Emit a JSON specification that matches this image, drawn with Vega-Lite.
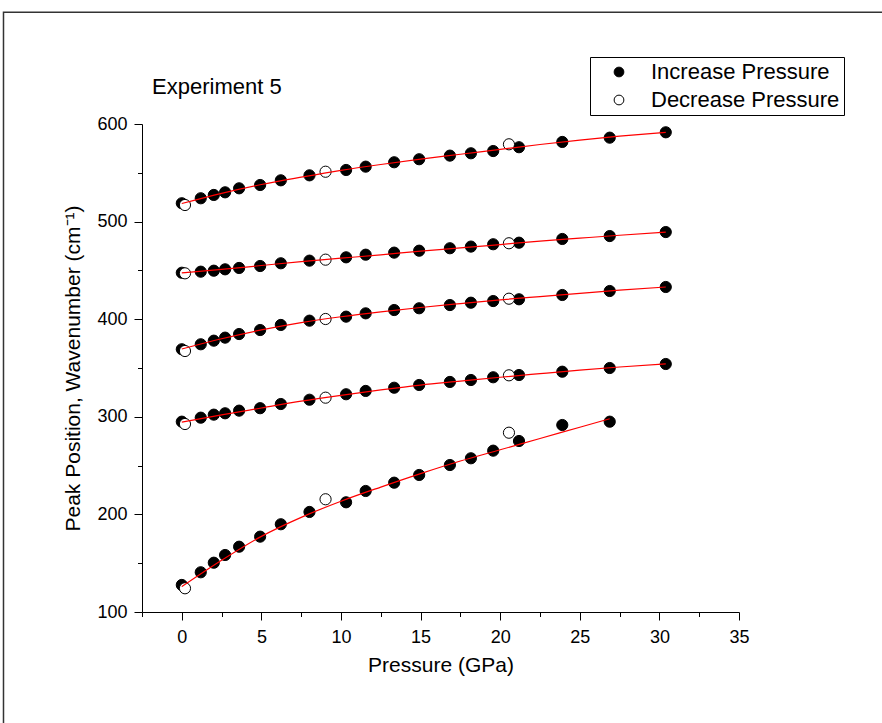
{
  "$schema": "https://vega.github.io/schema/vega-lite/v6.json",
  "width": 597,
  "height": 488,
  "autosize": {"type": "none"},
  "padding": {"left": 142, "top": 124, "right": 143, "bottom": 111},
  "background": "white",
  "config": {
    "view": {"stroke": null},
    "font": "Liberation Sans",
    "axis": {
      "grid": false,
      "domainColor": "black",
      "domainWidth": 1,
      "tickColor": "black",
      "tickWidth": 1,
      "labelColor": "black",
      "labelFont": "Liberation Sans",
      "titleFont": "Liberation Sans",
      "titleColor": "black",
      "titleFontWeight": "normal"
    }
  },
  "datasets": {
    "peaks": [
      {"p": 0, "v": 518.8, "peak": "A", "dir": "Increase Pressure"},
      {"p": 1.19, "v": 523.9, "peak": "A", "dir": "Increase Pressure"},
      {"p": 2.01, "v": 527.3, "peak": "A", "dir": "Increase Pressure"},
      {"p": 2.72, "v": 530.0, "peak": "A", "dir": "Increase Pressure"},
      {"p": 3.6, "v": 534.1, "peak": "A", "dir": "Increase Pressure"},
      {"p": 4.92, "v": 537.5, "peak": "A", "dir": "Increase Pressure"},
      {"p": 6.22, "v": 542.3, "peak": "A", "dir": "Increase Pressure"},
      {"p": 8.02, "v": 547.4, "peak": "A", "dir": "Increase Pressure"},
      {"p": 10.32, "v": 552.9, "peak": "A", "dir": "Increase Pressure"},
      {"p": 11.55, "v": 556.3, "peak": "A", "dir": "Increase Pressure"},
      {"p": 13.34, "v": 560.8, "peak": "A", "dir": "Increase Pressure"},
      {"p": 14.91, "v": 563.9, "peak": "A", "dir": "Increase Pressure"},
      {"p": 16.84, "v": 567.6, "peak": "A", "dir": "Increase Pressure"},
      {"p": 18.16, "v": 570.0, "peak": "A", "dir": "Increase Pressure"},
      {"p": 19.56, "v": 572.3, "peak": "A", "dir": "Increase Pressure"},
      {"p": 21.18, "v": 576.2, "peak": "A", "dir": "Increase Pressure"},
      {"p": 23.9, "v": 581.6, "peak": "A", "dir": "Increase Pressure"},
      {"p": 26.88, "v": 586.0, "peak": "A", "dir": "Increase Pressure"},
      {"p": 30.4, "v": 591.5, "peak": "A", "dir": "Increase Pressure"},
      {"p": 0, "v": 447.6, "peak": "B", "dir": "Increase Pressure"},
      {"p": 1.19, "v": 448.7, "peak": "B", "dir": "Increase Pressure"},
      {"p": 2.01, "v": 449.7, "peak": "B", "dir": "Increase Pressure"},
      {"p": 2.72, "v": 451.1, "peak": "B", "dir": "Increase Pressure"},
      {"p": 3.6, "v": 452.5, "peak": "B", "dir": "Increase Pressure"},
      {"p": 4.92, "v": 454.5, "peak": "B", "dir": "Increase Pressure"},
      {"p": 6.22, "v": 457.3, "peak": "B", "dir": "Increase Pressure"},
      {"p": 8.02, "v": 460.0, "peak": "B", "dir": "Increase Pressure"},
      {"p": 10.32, "v": 463.4, "peak": "B", "dir": "Increase Pressure"},
      {"p": 11.55, "v": 466.1, "peak": "B", "dir": "Increase Pressure"},
      {"p": 13.34, "v": 468.2, "peak": "B", "dir": "Increase Pressure"},
      {"p": 14.91, "v": 470.2, "peak": "B", "dir": "Increase Pressure"},
      {"p": 16.84, "v": 472.7, "peak": "B", "dir": "Increase Pressure"},
      {"p": 18.16, "v": 474.4, "peak": "B", "dir": "Increase Pressure"},
      {"p": 19.56, "v": 476.8, "peak": "B", "dir": "Increase Pressure"},
      {"p": 21.18, "v": 478.4, "peak": "B", "dir": "Increase Pressure"},
      {"p": 23.9, "v": 482.2, "peak": "B", "dir": "Increase Pressure"},
      {"p": 26.88, "v": 485.2, "peak": "B", "dir": "Increase Pressure"},
      {"p": 30.4, "v": 489.3, "peak": "B", "dir": "Increase Pressure"},
      {"p": 0, "v": 369.2, "peak": "C", "dir": "Increase Pressure"},
      {"p": 1.19, "v": 374.3, "peak": "C", "dir": "Increase Pressure"},
      {"p": 2.01, "v": 378.0, "peak": "C", "dir": "Increase Pressure"},
      {"p": 2.72, "v": 381.1, "peak": "C", "dir": "Increase Pressure"},
      {"p": 3.6, "v": 384.8, "peak": "C", "dir": "Increase Pressure"},
      {"p": 4.92, "v": 388.9, "peak": "C", "dir": "Increase Pressure"},
      {"p": 6.22, "v": 394.1, "peak": "C", "dir": "Increase Pressure"},
      {"p": 8.02, "v": 398.5, "peak": "C", "dir": "Increase Pressure"},
      {"p": 10.32, "v": 402.6, "peak": "C", "dir": "Increase Pressure"},
      {"p": 11.55, "v": 406.0, "peak": "C", "dir": "Increase Pressure"},
      {"p": 13.34, "v": 409.4, "peak": "C", "dir": "Increase Pressure"},
      {"p": 14.91, "v": 411.2, "peak": "C", "dir": "Increase Pressure"},
      {"p": 16.84, "v": 414.5, "peak": "C", "dir": "Increase Pressure"},
      {"p": 18.16, "v": 416.9, "peak": "C", "dir": "Increase Pressure"},
      {"p": 19.56, "v": 418.6, "peak": "C", "dir": "Increase Pressure"},
      {"p": 21.18, "v": 420.4, "peak": "C", "dir": "Increase Pressure"},
      {"p": 23.9, "v": 424.8, "peak": "C", "dir": "Increase Pressure"},
      {"p": 26.88, "v": 428.9, "peak": "C", "dir": "Increase Pressure"},
      {"p": 30.4, "v": 433.0, "peak": "C", "dir": "Increase Pressure"},
      {"p": 0, "v": 295.0, "peak": "D", "dir": "Increase Pressure"},
      {"p": 1.19, "v": 299.1, "peak": "D", "dir": "Increase Pressure"},
      {"p": 2.01, "v": 302.2, "peak": "D", "dir": "Increase Pressure"},
      {"p": 2.72, "v": 303.6, "peak": "D", "dir": "Increase Pressure"},
      {"p": 3.6, "v": 306.3, "peak": "D", "dir": "Increase Pressure"},
      {"p": 4.92, "v": 308.8, "peak": "D", "dir": "Increase Pressure"},
      {"p": 6.22, "v": 313.1, "peak": "D", "dir": "Increase Pressure"},
      {"p": 8.02, "v": 317.5, "peak": "D", "dir": "Increase Pressure"},
      {"p": 10.32, "v": 323.1, "peak": "D", "dir": "Increase Pressure"},
      {"p": 11.55, "v": 326.5, "peak": "D", "dir": "Increase Pressure"},
      {"p": 13.34, "v": 329.8, "peak": "D", "dir": "Increase Pressure"},
      {"p": 14.91, "v": 332.6, "peak": "D", "dir": "Increase Pressure"},
      {"p": 16.84, "v": 335.7, "peak": "D", "dir": "Increase Pressure"},
      {"p": 18.16, "v": 337.7, "peak": "D", "dir": "Increase Pressure"},
      {"p": 19.56, "v": 340.5, "peak": "D", "dir": "Increase Pressure"},
      {"p": 21.18, "v": 342.8, "peak": "D", "dir": "Increase Pressure"},
      {"p": 23.9, "v": 346.2, "peak": "D", "dir": "Increase Pressure"},
      {"p": 26.88, "v": 350.0, "peak": "D", "dir": "Increase Pressure"},
      {"p": 30.4, "v": 354.1, "peak": "D", "dir": "Increase Pressure"},
      {"p": 0, "v": 127.7, "peak": "E", "dir": "Increase Pressure"},
      {"p": 1.19, "v": 140.7, "peak": "E", "dir": "Increase Pressure"},
      {"p": 2.01, "v": 150.5, "peak": "E", "dir": "Increase Pressure"},
      {"p": 2.72, "v": 158.4, "peak": "E", "dir": "Increase Pressure"},
      {"p": 3.6, "v": 166.9, "peak": "E", "dir": "Increase Pressure"},
      {"p": 4.92, "v": 177.2, "peak": "E", "dir": "Increase Pressure"},
      {"p": 6.22, "v": 189.9, "peak": "E", "dir": "Increase Pressure"},
      {"p": 8.02, "v": 202.5, "peak": "E", "dir": "Increase Pressure"},
      {"p": 10.32, "v": 212.4, "peak": "E", "dir": "Increase Pressure"},
      {"p": 11.55, "v": 224.0, "peak": "E", "dir": "Increase Pressure"},
      {"p": 13.34, "v": 232.5, "peak": "E", "dir": "Increase Pressure"},
      {"p": 14.91, "v": 240.4, "peak": "E", "dir": "Increase Pressure"},
      {"p": 16.84, "v": 250.6, "peak": "E", "dir": "Increase Pressure"},
      {"p": 18.16, "v": 257.5, "peak": "E", "dir": "Increase Pressure"},
      {"p": 19.56, "v": 265.3, "peak": "E", "dir": "Increase Pressure"},
      {"p": 21.18, "v": 275.2, "peak": "E", "dir": "Increase Pressure"},
      {"p": 23.9, "v": 291.6, "peak": "E", "dir": "Increase Pressure"},
      {"p": 26.88, "v": 295.0, "peak": "E", "dir": "Increase Pressure"},
      {"p": 0.2, "v": 517.0, "peak": "A", "dir": "Decrease Pressure"},
      {"p": 9.03, "v": 551.1, "peak": "A", "dir": "Decrease Pressure"},
      {"p": 20.55, "v": 579.2, "peak": "A", "dir": "Decrease Pressure"},
      {"p": 0.2, "v": 447.0, "peak": "B", "dir": "Decrease Pressure"},
      {"p": 9.03, "v": 461.0, "peak": "B", "dir": "Decrease Pressure"},
      {"p": 20.55, "v": 477.8, "peak": "B", "dir": "Decrease Pressure"},
      {"p": 0.2, "v": 367.4, "peak": "C", "dir": "Decrease Pressure"},
      {"p": 9.03, "v": 400.2, "peak": "C", "dir": "Decrease Pressure"},
      {"p": 20.55, "v": 421.0, "peak": "C", "dir": "Decrease Pressure"},
      {"p": 0.2, "v": 292.6, "peak": "D", "dir": "Decrease Pressure"},
      {"p": 9.03, "v": 319.6, "peak": "D", "dir": "Decrease Pressure"},
      {"p": 20.55, "v": 342.5, "peak": "D", "dir": "Decrease Pressure"},
      {"p": 0.2, "v": 124.3, "peak": "E", "dir": "Decrease Pressure"},
      {"p": 9.03, "v": 215.5, "peak": "E", "dir": "Decrease Pressure"},
      {"p": 20.55, "v": 283.7, "peak": "E", "dir": "Decrease Pressure"}
    ],
    "fits": [
      {"p": 0, "v": 518.5, "peak": "A"},
      {"p": 2.5, "v": 529.0, "peak": "A"},
      {"p": 5, "v": 538.0, "peak": "A"},
      {"p": 7.5, "v": 545.5, "peak": "A"},
      {"p": 10, "v": 552.5, "peak": "A"},
      {"p": 12.5, "v": 558.5, "peak": "A"},
      {"p": 15, "v": 564.0, "peak": "A"},
      {"p": 17.5, "v": 569.0, "peak": "A"},
      {"p": 20, "v": 574.0, "peak": "A"},
      {"p": 22.5, "v": 579.0, "peak": "A"},
      {"p": 25, "v": 583.5, "peak": "A"},
      {"p": 27.5, "v": 587.5, "peak": "A"},
      {"p": 30.4, "v": 591.5, "peak": "A"},
      {"p": 0, "v": 447.5, "peak": "B"},
      {"p": 2.5, "v": 451.0, "peak": "B"},
      {"p": 5, "v": 455.0, "peak": "B"},
      {"p": 7.5, "v": 459.0, "peak": "B"},
      {"p": 10, "v": 462.5, "peak": "B"},
      {"p": 12.5, "v": 466.0, "peak": "B"},
      {"p": 15, "v": 469.8, "peak": "B"},
      {"p": 17.5, "v": 473.0, "peak": "B"},
      {"p": 20, "v": 476.5, "peak": "B"},
      {"p": 22.5, "v": 480.0, "peak": "B"},
      {"p": 25, "v": 483.0, "peak": "B"},
      {"p": 27.5, "v": 486.0, "peak": "B"},
      {"p": 30.4, "v": 489.3, "peak": "B"},
      {"p": 0, "v": 369.5, "peak": "C"},
      {"p": 2.5, "v": 380.0, "peak": "C"},
      {"p": 5, "v": 389.0, "peak": "C"},
      {"p": 7.5, "v": 396.5, "peak": "C"},
      {"p": 10, "v": 402.5, "peak": "C"},
      {"p": 12.5, "v": 407.5, "peak": "C"},
      {"p": 15, "v": 412.0, "peak": "C"},
      {"p": 17.5, "v": 416.0, "peak": "C"},
      {"p": 20, "v": 419.8, "peak": "C"},
      {"p": 22.5, "v": 423.2, "peak": "C"},
      {"p": 25, "v": 426.5, "peak": "C"},
      {"p": 27.5, "v": 429.8, "peak": "C"},
      {"p": 30.4, "v": 433.0, "peak": "C"},
      {"p": 0, "v": 294.5, "peak": "D"},
      {"p": 2.5, "v": 302.0, "peak": "D"},
      {"p": 5, "v": 309.0, "peak": "D"},
      {"p": 7.5, "v": 316.0, "peak": "D"},
      {"p": 10, "v": 322.0, "peak": "D"},
      {"p": 12.5, "v": 327.5, "peak": "D"},
      {"p": 15, "v": 332.5, "peak": "D"},
      {"p": 17.5, "v": 336.5, "peak": "D"},
      {"p": 20, "v": 340.5, "peak": "D"},
      {"p": 22.5, "v": 344.2, "peak": "D"},
      {"p": 25, "v": 347.8, "peak": "D"},
      {"p": 27.5, "v": 351.0, "peak": "D"},
      {"p": 30.4, "v": 354.2, "peak": "D"},
      {"p": 0, "v": 126.0, "peak": "E"},
      {"p": 2.5, "v": 153.0, "peak": "E"},
      {"p": 5, "v": 177.5, "peak": "E"},
      {"p": 7.5, "v": 197.0, "peak": "E"},
      {"p": 10, "v": 213.5, "peak": "E"},
      {"p": 12.5, "v": 228.0, "peak": "E"},
      {"p": 15, "v": 241.8, "peak": "E"},
      {"p": 17.5, "v": 254.7, "peak": "E"},
      {"p": 20, "v": 266.2, "peak": "E"},
      {"p": 22.5, "v": 277.8, "peak": "E"},
      {"p": 25, "v": 289.3, "peak": "E"},
      {"p": 26.88, "v": 298.0, "peak": "E"}
    ],
    "notes": [
      {"label": "Experiment 5", "p": -1.87, "v": 630.5}
    ],
    "frame": [
      {"p0": -11.2, "p1": 80, "v0": 714.5, "v1": -100}
    ]
  },
  "layer": [
    {
      "data": {"name": "frame"},
      "mark": {"type": "rect", "fillOpacity": 0, "stroke": "#333333", "strokeWidth": 1.5, "clip": false},
      "encoding": {
        "x": {"field": "p0", "type": "quantitative", "scale": {"domain": [-2.5, 35], "nice": false, "zero": false}, "axis": null},
        "x2": {"field": "p1"},
        "y": {"field": "v0", "type": "quantitative", "scale": {"domain": [100, 600], "nice": false, "zero": false}, "axis": null},
        "y2": {"field": "v1"}
      }
    },
    {
      "data": {"name": "peaks"},
      "mark": {"type": "circle", "size": 125, "stroke": "black", "strokeWidth": 1, "opacity": 1},
      "encoding": {
        "x": {
          "field": "p", "type": "quantitative",
          "scale": {"domain": [-2.5, 35], "nice": false, "zero": false},
          "axis": {
            "orient": "bottom",
            "values": [0, 5, 10, 15, 20, 25, 30, 35],
            "title": "Pressure (GPa)",
            "tickSize": 8,
            "labelFontSize": 18,
            "labelPadding": 8,
            "labelFlush": false,
            "titleFontSize": 21,
            "titleY": 53,
            "titleBaseline": "middle"
          }
        },
        "y": {
          "field": "v", "type": "quantitative",
          "scale": {"domain": [100, 600], "nice": false, "zero": false},
          "axis": {
            "orient": "left",
            "values": [100, 200, 300, 400, 500, 600],
            "title": "Peak Position, Wavenumber (cm⁻¹)",
            "tickSize": 8,
            "labelFontSize": 18,
            "labelPadding": 7,
            "labelFlush": false,
            "titleFontSize": 21,
            "titleAngle": -90,
            "titleX": -69,
            "titleY": 244,
            "titleAlign": "center",
            "titleBaseline": "middle"
          }
        },
        "fill": {
          "field": "dir", "type": "nominal",
          "scale": {"domain": ["Increase Pressure", "Decrease Pressure"], "range": ["black", "white"]},
          "legend": {
            "title": null,
            "orient": "none",
            "legendX": 448,
            "legendY": -67,
            "direction": "vertical",
            "symbolType": "circle",
            "symbolSize": 95,
            "symbolStrokeColor": "black",
            "symbolStrokeWidth": 1,
            "symbolOffset": 14,
            "labelFontSize": 22,
            "labelFont": "Liberation Sans",
            "labelColor": "black",
            "labelOffset": 21,
            "labelLimit": 400,
            "strokeColor": "black",
            "padding": 4,
            "rowPadding": 6
          }
        }
      }
    },
    {
      "data": {"name": "fits"},
      "mark": {"type": "line", "color": "#ff0000", "strokeWidth": 1.2, "interpolate": "monotone"},
      "encoding": {
        "x": {
          "field": "p", "type": "quantitative",
          "scale": {"domain": [-2.5, 35], "nice": false, "zero": false},
          "axis": {
            "orient": "bottom",
            "values": [-2.5, 2.5, 7.5, 12.5, 17.5, 22.5, 27.5, 32.5],
            "labels": false,
            "domain": false,
            "tickSize": 4.5,
            "title": null
          }
        },
        "y": {
          "field": "v", "type": "quantitative",
          "scale": {"domain": [100, 600], "nice": false, "zero": false},
          "axis": {
            "orient": "left",
            "values": [150, 250, 350, 450, 550],
            "labels": false,
            "domain": false,
            "tickSize": 4.5,
            "title": null
          }
        },
        "detail": {"field": "peak", "type": "nominal"}
      }
    },
    {
      "data": {"name": "notes"},
      "mark": {"type": "text", "align": "left", "baseline": "alphabetic", "fontSize": 22, "font": "Liberation Sans", "color": "black", "clip": false},
      "encoding": {
        "x": {"field": "p", "type": "quantitative", "scale": {"domain": [-2.5, 35], "nice": false, "zero": false}, "axis": null},
        "y": {"field": "v", "type": "quantitative", "scale": {"domain": [100, 600], "nice": false, "zero": false}, "axis": null},
        "text": {"field": "label"}
      }
    }
  ],
  "resolve": {"axis": {"x": "independent", "y": "independent"}}
}
